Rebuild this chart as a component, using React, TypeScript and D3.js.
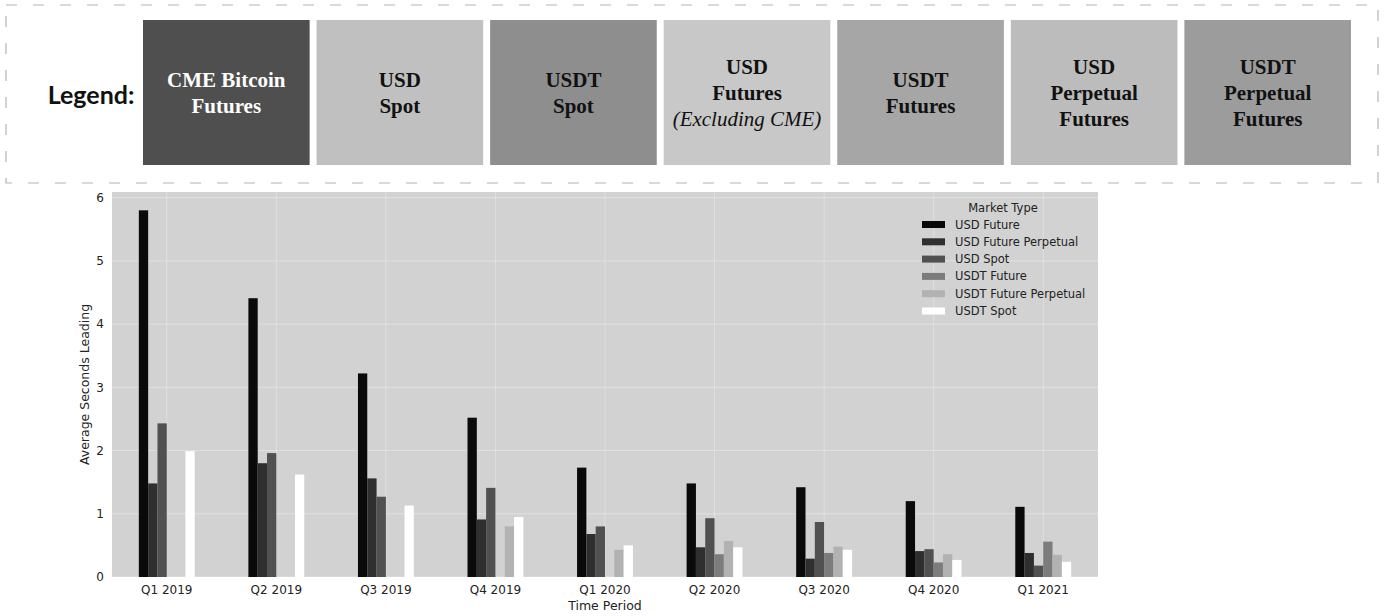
import React from 'react';
import * as d3 from 'd3';

// Time periods (x categories)
const periods = ['Q1 2019', 'Q2 2019', 'Q3 2019', 'Q4 2019', 'Q1 2020', 'Q2 2020', 'Q3 2020', 'Q4 2020', 'Q1 2021'];

// Average seconds leading per market type (null = no bar)
const usdFuture = [5.8, 4.41, 3.22, 2.52, 1.73, 1.48, 1.42, 1.2, 1.11];
const usdFuturePerpetual = [1.48, 1.8, 1.56, 0.91, 0.68, 0.47, 0.29, 0.41, 0.38];
const usdSpot = [2.43, 1.96, 1.27, 1.41, 0.8, 0.93, 0.87, 0.44, 0.18];
const usdtFuture = [null, null, null, null, null, 0.36, 0.38, 0.23, 0.56];
const usdtFuturePerpetual = [null, null, null, 0.8, 0.43, 0.57, 0.48, 0.36, 0.35];
const usdtSpot = [1.99, 1.62, 1.13, 0.95, 0.5, 0.47, 0.43, 0.27, 0.24];

const marketTypes = ['USD Future', 'USD Future Perpetual', 'USD Spot', 'USDT Future', 'USDT Future Perpetual', 'USDT Spot'];
const marketColors = ['#0a0a0a', '#2f2f2f', '#515151', '#7c7c7c', '#b2b2b2', '#ffffff'];
const seriesValues = [usdFuture, usdFuturePerpetual, usdSpot, usdtFuture, usdtFuturePerpetual, usdtSpot];

const yTicks = [0, 1, 2, 3, 4, 5, 6];

// Top banner legend
const bannerLabels = [
  ['CME Bitcoin', 'Futures'],
  ['USD', 'Spot'],
  ['USDT', 'Spot'],
  ['USD', 'Futures', '(Excluding CME)'],
  ['USDT', 'Futures'],
  ['USD', 'Perpetual', 'Futures'],
  ['USDT', 'Perpetual', 'Futures'],
];
const bannerColors = ['#4f4f4f', '#c0c0c0', '#8e8e8e', '#c8c8c8', '#a6a6a6', '#bcbcbc', '#9c9c9c'];

const W = 1385;
const H = 616;
const plot = { left: 112, right: 1098, top: 192, bottom: 577 };

const App: React.FC = () => {
  const x = d3.scaleBand<string>().domain(periods).range([plot.left, plot.right]).padding(0);
  const groupW = x.bandwidth() * 0.51;
  const inner = d3.scaleBand<string>().domain(marketTypes).range([0, groupW]).padding(0);
  const y = d3.scaleLinear().domain([0, 6.09]).range([plot.bottom, plot.top]);

  const banner = d3.scaleBand<number>().domain(bannerLabels.map((_, i) => i)).range([143, 1351]).paddingInner(0.04);

  const serif = '"Liberation Serif", "Times New Roman", serif';
  const sans = '"DejaVu Sans", sans-serif';

  return (
    <svg width={W} height={H} style={{ position: 'absolute', left: 0, top: 0, display: 'block', background: '#fff' }}>
      {/* dashed frame around the banner */}
      <rect x={6} y={5} width={1372} height={178} fill="none" stroke="#b4b4b4" strokeWidth={1.2} strokeDasharray="11 16" />

      <text x={91} y={104} textAnchor="middle" fontFamily='Lato, "Open Sans", sans-serif' fontWeight={700} fontSize={25} fill="#111">Legend:</text>

      {bannerLabels.map((lines, i) => {
        const bx = banner(i) || 0;
        const bw = banner.bandwidth();
        const cy = 93;
        const lh = 26;
        const y0 = cy - ((lines.length - 1) * lh) / 2;
        return (
          <g key={i}>
            <rect x={bx} y={20} width={bw} height={145} fill={bannerColors[i]} />
            {lines.map((t, j) => {
              const italic = t.startsWith('(');
              return (
                <text
                  key={j}
                  x={bx + bw / 2}
                  y={y0 + j * lh}
                  dy="0.35em"
                  textAnchor="middle"
                  fontFamily={serif}
                  fontSize={21}
                  fontWeight={italic ? 400 : 700}
                  fontStyle={italic ? 'italic' : 'normal'}
                  fill={i === 0 ? '#ffffff' : '#111'}
                >
                  {t}
                </text>
              );
            })}
          </g>
        );
      })}

      {/* plot background */}
      <rect x={plot.left} y={plot.top} width={plot.right - plot.left} height={plot.bottom - plot.top} fill="#d2d2d2" />

      {/* grid */}
      {yTicks.map(t => (
        <line key={'gy' + t} x1={plot.left} x2={plot.right} y1={y(t)} y2={y(t)} stroke="#fff" strokeOpacity={0.35} strokeWidth={1} />
      ))}
      {periods.map(p => (
        <line key={'gx' + p} x1={(x(p) || 0) + x.bandwidth() / 2} x2={(x(p) || 0) + x.bandwidth() / 2} y1={plot.top} y2={plot.bottom} stroke="#fff" strokeOpacity={0.3} strokeWidth={1} />
      ))}

      {/* bars */}
      {periods.map((p, pi) => {
        const gx = (x(p) || 0) + (x.bandwidth() - groupW) / 2;
        return (
          <g key={p}>
            {marketTypes.map((m, mi) => {
              const v = seriesValues[mi][pi];
              if (v === null || v === undefined) return null;
              return (
                <rect
                  key={m}
                  x={gx + (inner(m) || 0)}
                  y={y(v)}
                  width={inner.bandwidth()}
                  height={y(0) - y(v)}
                  fill={marketColors[mi]}
                />
              );
            })}
          </g>
        );
      })}

      {/* y axis */}
      {yTicks.map(t => (
        <text key={'yt' + t} x={104} y={y(t)} dy="0.35em" textAnchor="end" fontFamily={sans} fontSize={12} fill="#222">{t}</text>
      ))}
      <text transform={`translate(85,${(plot.top + plot.bottom) / 2}) rotate(-90)`} textAnchor="middle" dy="0.35em" fontFamily={sans} fontSize={12.5} fill="#222">
        Average Seconds Leading
      </text>

      {/* x axis */}
      {periods.map(p => (
        <text key={'xt' + p} x={(x(p) || 0) + x.bandwidth() / 2} y={590} dy="0.35em" textAnchor="middle" fontFamily={sans} fontSize={12} fill="#222">{p}</text>
      ))}
      <text x={(plot.left + plot.right) / 2} y={606} dy="0.35em" textAnchor="middle" fontFamily={sans} fontSize={12.5} fill="#222">Time Period</text>

      {/* inner legend */}
      <text x={1003} y={208} dy="0.35em" textAnchor="middle" fontFamily={sans} fontSize={11.5} fill="#222">Market Type</text>
      {marketTypes.map((m, i) => {
        const cy = 224.5 + i * 17.3;
        return (
          <g key={'lg' + m}>
            <rect x={922} y={cy - 3.5} width={23} height={7} fill={marketColors[i]} />
            <text x={955} y={cy} dy="0.35em" fontFamily={sans} fontSize={11.5} fill="#222">{m}</text>
          </g>
        );
      })}
    </svg>
  );
};

export default App;
